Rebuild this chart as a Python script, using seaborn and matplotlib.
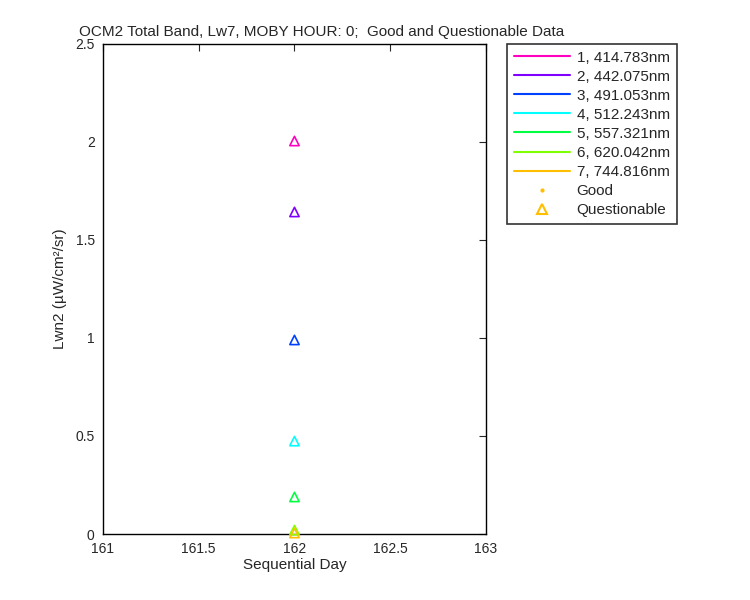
import seaborn as sns
import matplotlib.pyplot as plt
import pandas as pd
from matplotlib.lines import Line2D

sns.set_style("white")
plt.rcParams['font.family'] = ['Liberation Sans', 'DejaVu Sans']
plt.rcParams['font.size'] = 10

# 数据
bands = ["1, 414.783nm", "2, 442.075nm", "3, 491.053nm", "4, 512.243nm",
         "5, 557.321nm", "6, 620.042nm", "7, 744.816nm"]
days = [162, 162, 162, 162, 162, 162, 162]
lwn = [2.005, 1.643, 0.99, 0.474, 0.189, 0.02, 0.005]
colors = ["#ff00bf", "#8000ff", "#0040ff", "#00ffff", "#00ff40", "#80ff00", "#ffbf00"]

df = pd.DataFrame({"day": days, "lwn": lwn, "band": bands})

fig = plt.figure(figsize=(7.5, 6), dpi=100)
ax = fig.add_axes([0.1373, 0.11, 0.5107, 0.8167])

for i, row in df.iterrows():
    sns.scatterplot(x=[row["day"]], y=[row["lwn"]], marker="^", s=45,
                    facecolor="none", edgecolor=colors[i], linewidth=1.2,
                    ax=ax, zorder=3, clip_on=False)

ax.set_xlim(161, 163)
ax.set_ylim(0, 2.5)
ax.set_xticks([161, 161.5, 162, 162.5, 163])
ax.set_xticklabels(["161", "161.5", "162", "162.5", "163"])
ax.set_yticks([0, 0.5, 1, 1.5, 2, 2.5])
ax.set_yticklabels(["0", "0.5", "1", "1.5", "2", "2.5"])
ax.tick_params(direction="in", top=True, right=True, length=5, width=0.8,
               labelsize=10, pad=6)
for sp in ax.spines.values():
    sp.set_linewidth(1.0)
    sp.set_color("black")

ax.set_xlabel("Sequential Day", fontsize=11, labelpad=1)
ax.set_ylabel("Lwn2 (\u00b5W/cm\u00b2/sr)", fontsize=11, labelpad=6)
ax.set_title("OCM2 Total Band, Lw7, MOBY HOUR: 0;  Good and Questionable Data",
             fontsize=11, x=0.572, pad=6)

# 图例
handles = [Line2D([], [], color=c, lw=1.5) for c in colors]
handles.append(Line2D([], [], color="#ffbf00", marker=".", ls="none", markersize=4))
handles.append(Line2D([], [], color="#ffbf00", marker="^", ls="none", markersize=7,
                      markerfacecolor="none", markeredgewidth=1.5))
labels = bands + ["Good", "Questionable"]
leg = fig.legend(handles, labels, loc="upper left", bbox_to_anchor=(0.676, 0.927),
                 frameon=True, fancybox=False, edgecolor="black", fontsize=11,
                 handlelength=3.7, handletextpad=0.4, borderpad=0.45,
                 labelspacing=0.33, borderaxespad=0)
leg.get_frame().set_linewidth(1.2)

fig.savefig("out.png", dpi=100)
